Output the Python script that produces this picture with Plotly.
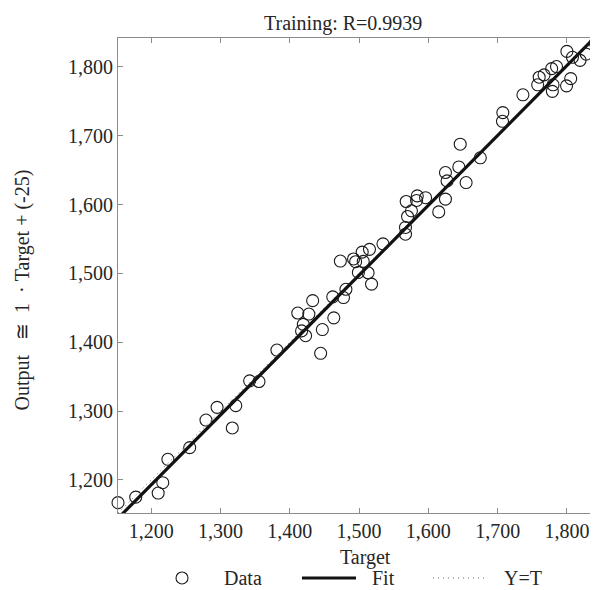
import plotly.graph_objects as go

# Data (Target, Output)
target = [1152, 1177.6, 1210, 1216.6, 1224, 1255.5, 1279, 1295, 1317, 1322,
          1342, 1355.5, 1381.4, 1411.5, 1419.5, 1417, 1422.8, 1427.5, 1433, 1447,
          1444.5, 1463.5, 1462, 1477.5, 1481, 1473, 1492, 1495, 1504.5, 1515,
          1506, 1499, 1513, 1518, 1534.5, 1567, 1567, 1570, 1575.6, 1568,
          1583, 1584, 1596, 1615, 1624.7, 1624.7, 1627, 1644, 1654.5, 1646,
          1675, 1707.5, 1707, 1736.5, 1760, 1757.8, 1767, 1778, 1785, 1780,
          1779, 1800, 1805.5, 1799.5, 1808, 1819, 1828, 1841]
output = [1167, 1175, 1181, 1196, 1230, 1247, 1287, 1305.5, 1275.5, 1308,
          1344, 1343, 1388.7, 1442.5, 1426, 1416.5, 1409.5, 1441, 1460.5, 1418.5,
          1384, 1435.5, 1466, 1465, 1477, 1518, 1521, 1517, 1531, 1535,
          1517.5, 1501.5, 1501, 1484.5, 1543, 1566.8, 1557, 1582.7, 1591, 1604.5,
          1606, 1612.6, 1610, 1589.4, 1608, 1646.6, 1634.4, 1654.7, 1632, 1687.7,
          1668, 1733.6, 1721, 1759.5, 1785, 1774, 1788.5, 1797.5, 1800.5, 1774,
          1764.5, 1822.5, 1783, 1772.5, 1814, 1809.5, 1818.5, 1834.5]

axis_range = [1152, 1842]
fit_slope = 1.015
fit_intercept = -25
tick_vals = [1200, 1300, 1400, 1500, 1600, 1700, 1800]
title_text = "Training: R=0.9939"
x_title = "Target"
NB = "\u00a0"
y_title = ("Output" + NB * 3 + "\u2245" + NB * 2 + "1" + NB * 2 + "\u00b7"
           + NB + "Target + (-25)")
legend_names = ["Data", "Fit", "Y=T"]

FONT = "Liberation Serif, Times New Roman, serif"
TXT = "#262626"
DOT = "1px,4px"
DOT_COLOR = "#6e6e6e"

line_x = [axis_range[0], axis_range[1]]
fit_y = [fit_slope * v + fit_intercept for v in line_x]

fig = go.Figure()
fig.add_trace(go.Scatter(
    x=line_x, y=line_x, mode="lines", name=legend_names[2],
    line=dict(color=DOT_COLOR, width=1, dash=DOT)))
fig.add_trace(go.Scatter(
    x=line_x, y=fit_y, mode="lines", name=legend_names[1],
    line=dict(color="#111111", width=3.2)))
fig.add_trace(go.Scatter(
    x=target, y=output, mode="markers", name=legend_names[0],
    marker=dict(symbol="circle-open", size=12, color="#1a1a1a",
                line=dict(width=1.1, color="#1a1a1a")),
    cliponaxis=False))

axis_common = dict(
    range=axis_range, tickvals=tick_vals, tickformat=",d",
    showgrid=False, zeroline=False, automargin=False,
    showline=True, linecolor="#8c8c8c", linewidth=1, mirror="ticks",
    ticks="inside", ticklen=5, tickcolor="#8c8c8c", tickwidth=1,
    tickfont=dict(family=FONT, size=20, color=TXT),
)

# manual legend (below the axes), positions in paper fraction
ly = -0.1368
shapes = [
    dict(type="circle", xref="paper", yref="paper", xsizemode="pixel",
         ysizemode="pixel", xanchor=0.1339, yanchor=ly, x0=-6, x1=6, y0=-6, y1=6,
         line=dict(color="#1a1a1a", width=1.1)),
    dict(type="line", xref="paper", yref="paper", x0=0.3849, x1=0.4979,
         y0=ly, y1=ly, line=dict(color="#111111", width=3.2)),
    dict(type="line", xref="paper", yref="paper", x0=0.659, x1=0.772,
         y0=ly, y1=ly, line=dict(color=DOT_COLOR, width=1, dash=DOT)),
]
leg_text = [(legend_names[0], 0.2176), (legend_names[1], 0.5272), (legend_names[2], 0.8033)]

annotations = [
    dict(text=title_text, xref="paper", yref="paper", x=0.5, y=1,
         xanchor="center", yanchor="bottom", yshift=1, xshift=-14, showarrow=False,
         font=dict(family=FONT, size=20, color=TXT)),
    dict(text=x_title, xref="paper", yref="paper", x=0.518, y=0,
         xanchor="center", yanchor="middle", yshift=-44, showarrow=False,
         font=dict(family=FONT, size=20, color=TXT)),
    dict(text=y_title, xref="paper", yref="paper", x=0, y=0.5,
         xanchor="center", yanchor="middle", xshift=-96, yshift=-15, textangle=-90,
         showarrow=False, font=dict(family=FONT, size=20, color=TXT)),
]
for name, xp in leg_text:
    annotations.append(dict(text=name, xref="paper", yref="paper", x=xp, y=ly,
                            xanchor="left", yanchor="middle", showarrow=False,
                            font=dict(family=FONT, size=20, color=TXT)))

# the page adds an 8 px body margin, so the figure is 8 px smaller than the window
fig.update_layout(
    width=590, height=582,
    margin=dict(l=110, r=2, t=30, b=77),
    paper_bgcolor="white", plot_bgcolor="white",
    font=dict(family=FONT, size=20, color=TXT),
    xaxis=dict(**axis_common),
    yaxis=dict(**axis_common),
    showlegend=False,
    shapes=shapes,
    annotations=annotations,
)

fig.write_html("out.html")
